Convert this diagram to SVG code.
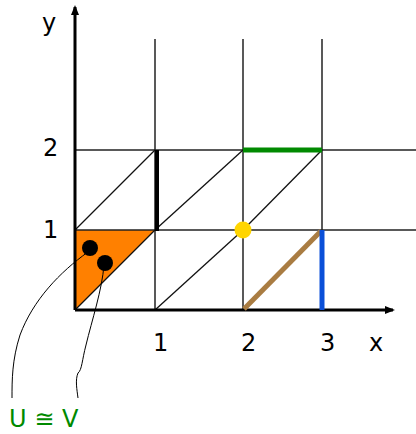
<svg xmlns="http://www.w3.org/2000/svg" width="416" height="434" viewBox="0 0 416 434">
<style>
.grid{stroke:#222;stroke-width:1.5;fill:none}
.diag{stroke:#111;stroke-width:1.3;fill:none}
.axis{stroke:#000;stroke-width:3;fill:none}
.lbl{font-family:"DejaVu Sans",Verdana,sans-serif;font-size:24px;fill:#000}
.lead{stroke:#000;stroke-width:1;fill:none}
</style>
<defs>
<marker id="arr" markerWidth="10" markerHeight="10" refX="8" refY="5" orient="auto" markerUnits="userSpaceOnUse">
<path d="M0,1 L10,5 L0,9 Z" fill="#000"/>
</marker>
</defs>
<g id="shapes">
<polygon id="triangle" points="75,230 155,230 75,310" fill="#FF8000"/>
</g>
<g id="connectors">
<line class="grid" x1="155" y1="39" x2="155" y2="310"/>
<line class="grid" x1="243" y1="39" x2="243" y2="310"/>
<line class="grid" x1="322" y1="39" x2="322" y2="310"/>
<line class="grid" x1="75" y1="150" x2="416" y2="150"/>
<line class="grid" x1="75" y1="230" x2="416" y2="230"/>
<line class="diag" x1="75" y1="230" x2="155" y2="150"/>
<line class="diag" x1="155" y1="230" x2="243" y2="150"/>
<line class="diag" x1="243" y1="230" x2="322" y2="150"/>
<line class="diag" x1="75" y1="310" x2="155" y2="230"/>
<line class="diag" x1="155" y1="310" x2="243" y2="230"/>
<line class="axis" x1="75" y1="310" x2="393" y2="310" marker-end="url(#arr)"/>
<line class="axis" x1="75" y1="310" x2="75" y2="7" marker-end="url(#arr)"/>
<line stroke="#000" stroke-width="4" x1="157" y1="150" x2="157" y2="231"/>
<line stroke="#008A00" stroke-width="5" x1="243" y1="150" x2="322" y2="150"/>
<line stroke="#A97C42" stroke-width="5" x1="244" y1="309" x2="321" y2="231"/>
<line stroke="#0A4FD8" stroke-width="5" x1="322" y1="230" x2="322" y2="310"/>
<path class="lead" d="M88,252 C60,272 33,300 20,335 C12,360 12,380 12,398"/>
<path class="lead" d="M104,265 C102,290 92,320 86,345 C82,360 82,370 78,373 C75,380 77,390 78,398"/>
</g>
<g id="points">
<circle id="yellow" cx="243" cy="230" r="8.5" fill="#FFD500"/>
<circle id="u" cx="90" cy="248" r="8" fill="#000"/>
<circle id="v" cx="105" cy="263" r="8" fill="#000"/>
</g>
<g id="labels">
<text class="lbl" x="42" y="31">y</text>
<text class="lbl" x="43" y="156">2</text>
<text class="lbl" x="43" y="238">1</text>
<text class="lbl" x="153" y="351">1</text>
<text class="lbl" x="241" y="351">2</text>
<text class="lbl" x="320" y="351">3</text>
<text class="lbl" x="369" y="351">x</text>
<text x="9" y="427" font-family="DejaVu Sans,Verdana,sans-serif" font-size="24" fill="#008A00">U ≅ V</text>
</g>
</svg>
